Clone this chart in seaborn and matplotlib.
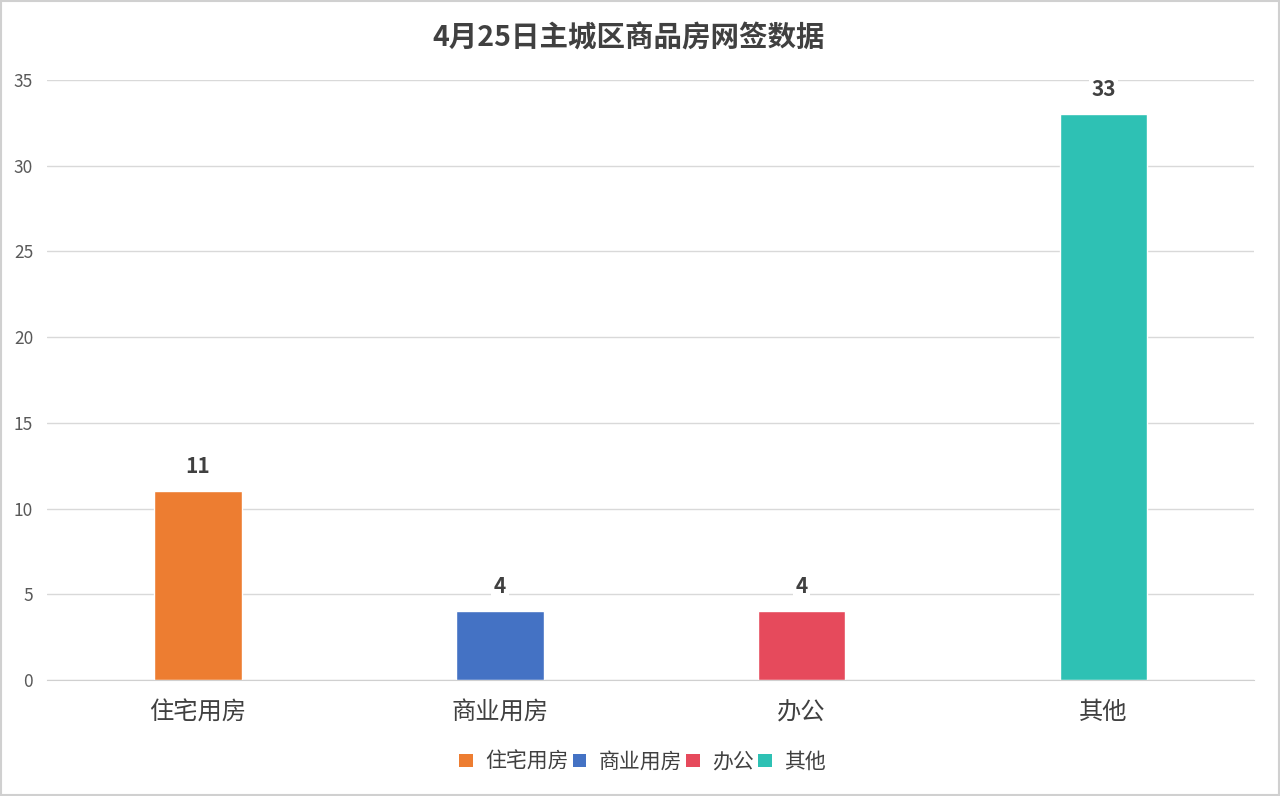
import matplotlib
matplotlib.use("Agg")
import matplotlib.pyplot as plt
import seaborn as sns
import pandas as pd
from matplotlib.patches import Rectangle

categories = ["住宅用房", "商业用房", "办公", "其他"]
values = [11, 4, 4, 33]
colors = ["#ED7D31", "#4472C4", "#E64A5C", "#2EC1B4"]
title = "4月25日主城区商品房网签数据"
yticks = [0, 5, 10, 15, 20, 25, 30, 35]

sns.set_style("white")
plt.rcParams["font.family"] = ["Noto Sans CJK SC", "DejaVu Sans"]

df = pd.DataFrame({"cat": categories, "val": values})

fig = plt.figure(figsize=(12.8, 7.96), dpi=100)
fig.patches.append(Rectangle((0.001, 0.001), 0.998, 0.998, transform=fig.transFigure,
                             fill=False, edgecolor="#d0d0d0", linewidth=1.5))
ax = fig.add_axes([0.0367, 0.1457, 0.9433, 0.7538])
sns.barplot(data=df, x="cat", y="val", hue="cat", palette=colors, width=0.29,
            ax=ax, legend=False, saturation=1, order=categories, hue_order=categories)

ax.set_ylim(0, 35)
ax.set_yticks(yticks)
ax.set_xlim(-0.5, 3.5)
ax.grid(axis="y", color="#d9d9d9", linewidth=1)
ax.set_axisbelow(True)
for s in ["top", "right", "left"]:
    ax.spines[s].set_visible(False)
ax.spines["bottom"].set_color("#d0d0d0")
ax.set_xlabel("")
ax.set_ylabel("")
ax.tick_params(axis="y", length=0, labelsize=12.5, labelcolor="#595959", pad=10)
ax.tick_params(axis="x", length=0, labelsize=17.5, labelcolor="#404040", pad=14)

for i, v in enumerate(values):
    ax.text(i, v + 1.45, str(v), ha="center", va="center", fontsize=15, fontweight="bold",
            color="#404040", bbox=dict(facecolor="white", edgecolor="none", pad=2))

fig.text(0.491, 0.952, title, ha="center", va="center", fontsize=20.5, fontweight="bold", color="#404040")

handles = [Rectangle((0, 0), 1, 1, facecolor=c, edgecolor="none") for c in colors]
fig.legend(handles, categories, loc="center", bbox_to_anchor=(0.502, 0.043), ncol=4, frameon=False,
           fontsize=15, handlelength=0.65, handleheight=0.65, columnspacing=0.2, handletextpad=0.6,
           labelcolor="#404040")

fig.savefig("out.png", dpi=100, facecolor="white")
